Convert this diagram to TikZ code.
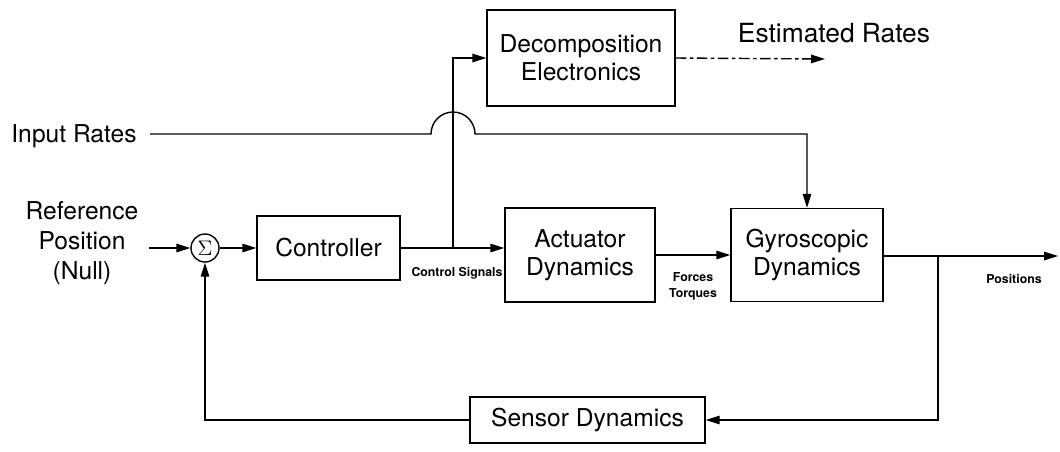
\documentclass[tikz,border=0pt]{standalone}
\usepackage{fontspec}
\setmainfont{TeX Gyre Heros}
\usetikzlibrary{arrows.meta,positioning,calc}

\begin{document}
\begin{tikzpicture}[
    block/.style={draw, line width=0.8pt, font=\fontsize{14}{16}\selectfont,
                  align=center, inner sep=0pt},
    lbl/.style={font=\fontsize{14}{17}\selectfont, align=center, inner sep=0pt},
    tiny/.style={font=\fontsize{7}{9}\selectfont\bfseries, align=center, inner sep=0pt},
    arr/.style={-{Triangle[length=2.8mm,width=1.7mm]}, line width=0.8pt},
    wire/.style={line width=0.8pt}
]
\useasboundingbox (0,0) rectangle (21.2,-9.02);
% blocks
\node[block, minimum width=3.76cm, minimum height=1.92cm] (dec) at (11.62,-1.16)
    {Decomposition\\Electronics};
\node[block, minimum width=2.86cm, minimum height=1.28cm] (ctrl) at (6.57,-4.96)
    {Controller};
\node[block, minimum width=3.0cm, minimum height=1.88cm] (act) at (11.6,-5.1)
    {Actuator\\Dynamics};
\node[block, minimum width=3.04cm, minimum height=1.86cm] (gyro) at (16.14,-5.1)
    {Gyroscopic\\Dynamics};
\node[block, minimum width=4.7cm, minimum height=0.92cm] (sens) at (11.75,-8.4)
    {Sensor Dynamics};
\node[draw, circle, line width=0.8pt, minimum size=0.56cm, inner sep=0pt,
      font=\fontsize{13}{13}\selectfont] (sum) at (4.1,-4.96) {$\Sigma$};
% texts
\node[lbl] (ref) at (1.64,-4.86) {Reference\\Position\\(Null)};
\node[lbl] (inrate) at (1.48,-2.72) {Input Rates};
\node[lbl, font=\fontsize{15}{17}\selectfont] (est) at (16.68,-0.66) {Estimated Rates};
\node[tiny] (csig) at (9.14,-5.46) {Control Signals};
\node[tiny] (ftor) at (13.86,-5.72) {Forces\\Torques};
\node[tiny] (pos) at (20.28,-5.58) {Positions};
% free ends
\coordinate (refin) at (2.98,-4.96);
\coordinate (inl) at (3.0,-2.68);
\coordinate (hopl) at (8.62,-2.68);
\coordinate (estout) at (16.5,-1.18);
\coordinate (posout) at (21.16,-5.12);
\coordinate (j1) at (9.06,-4.96);
\coordinate (j2) at (18.76,-5.12);
% connectors
\draw[arr] (refin) -- (sum);
\draw[arr] (sum) -- (ctrl);
\draw[arr] (ctrl.east) -- (ctrl.east -| act.west);
\draw[arr] (j1) |- (dec.west);
\draw[arr, dashed, dash pattern=on 6pt off 2pt on 2pt off 2pt] (dec.east) -- (estout);
\draw[arr] (inl) -- (hopl) arc (180:0:0.44) -- (hopl -| gyro.north) -- (gyro.north);
\draw[arr] (act.east |- gyro.west) -- (gyro.west);
\draw[arr] (gyro.east |- posout) -- (posout);
\draw[arr] (j2) |- (sens.east);
\draw[arr] (sens.west) -| (sum.south);
\end{tikzpicture}
\end{document}
